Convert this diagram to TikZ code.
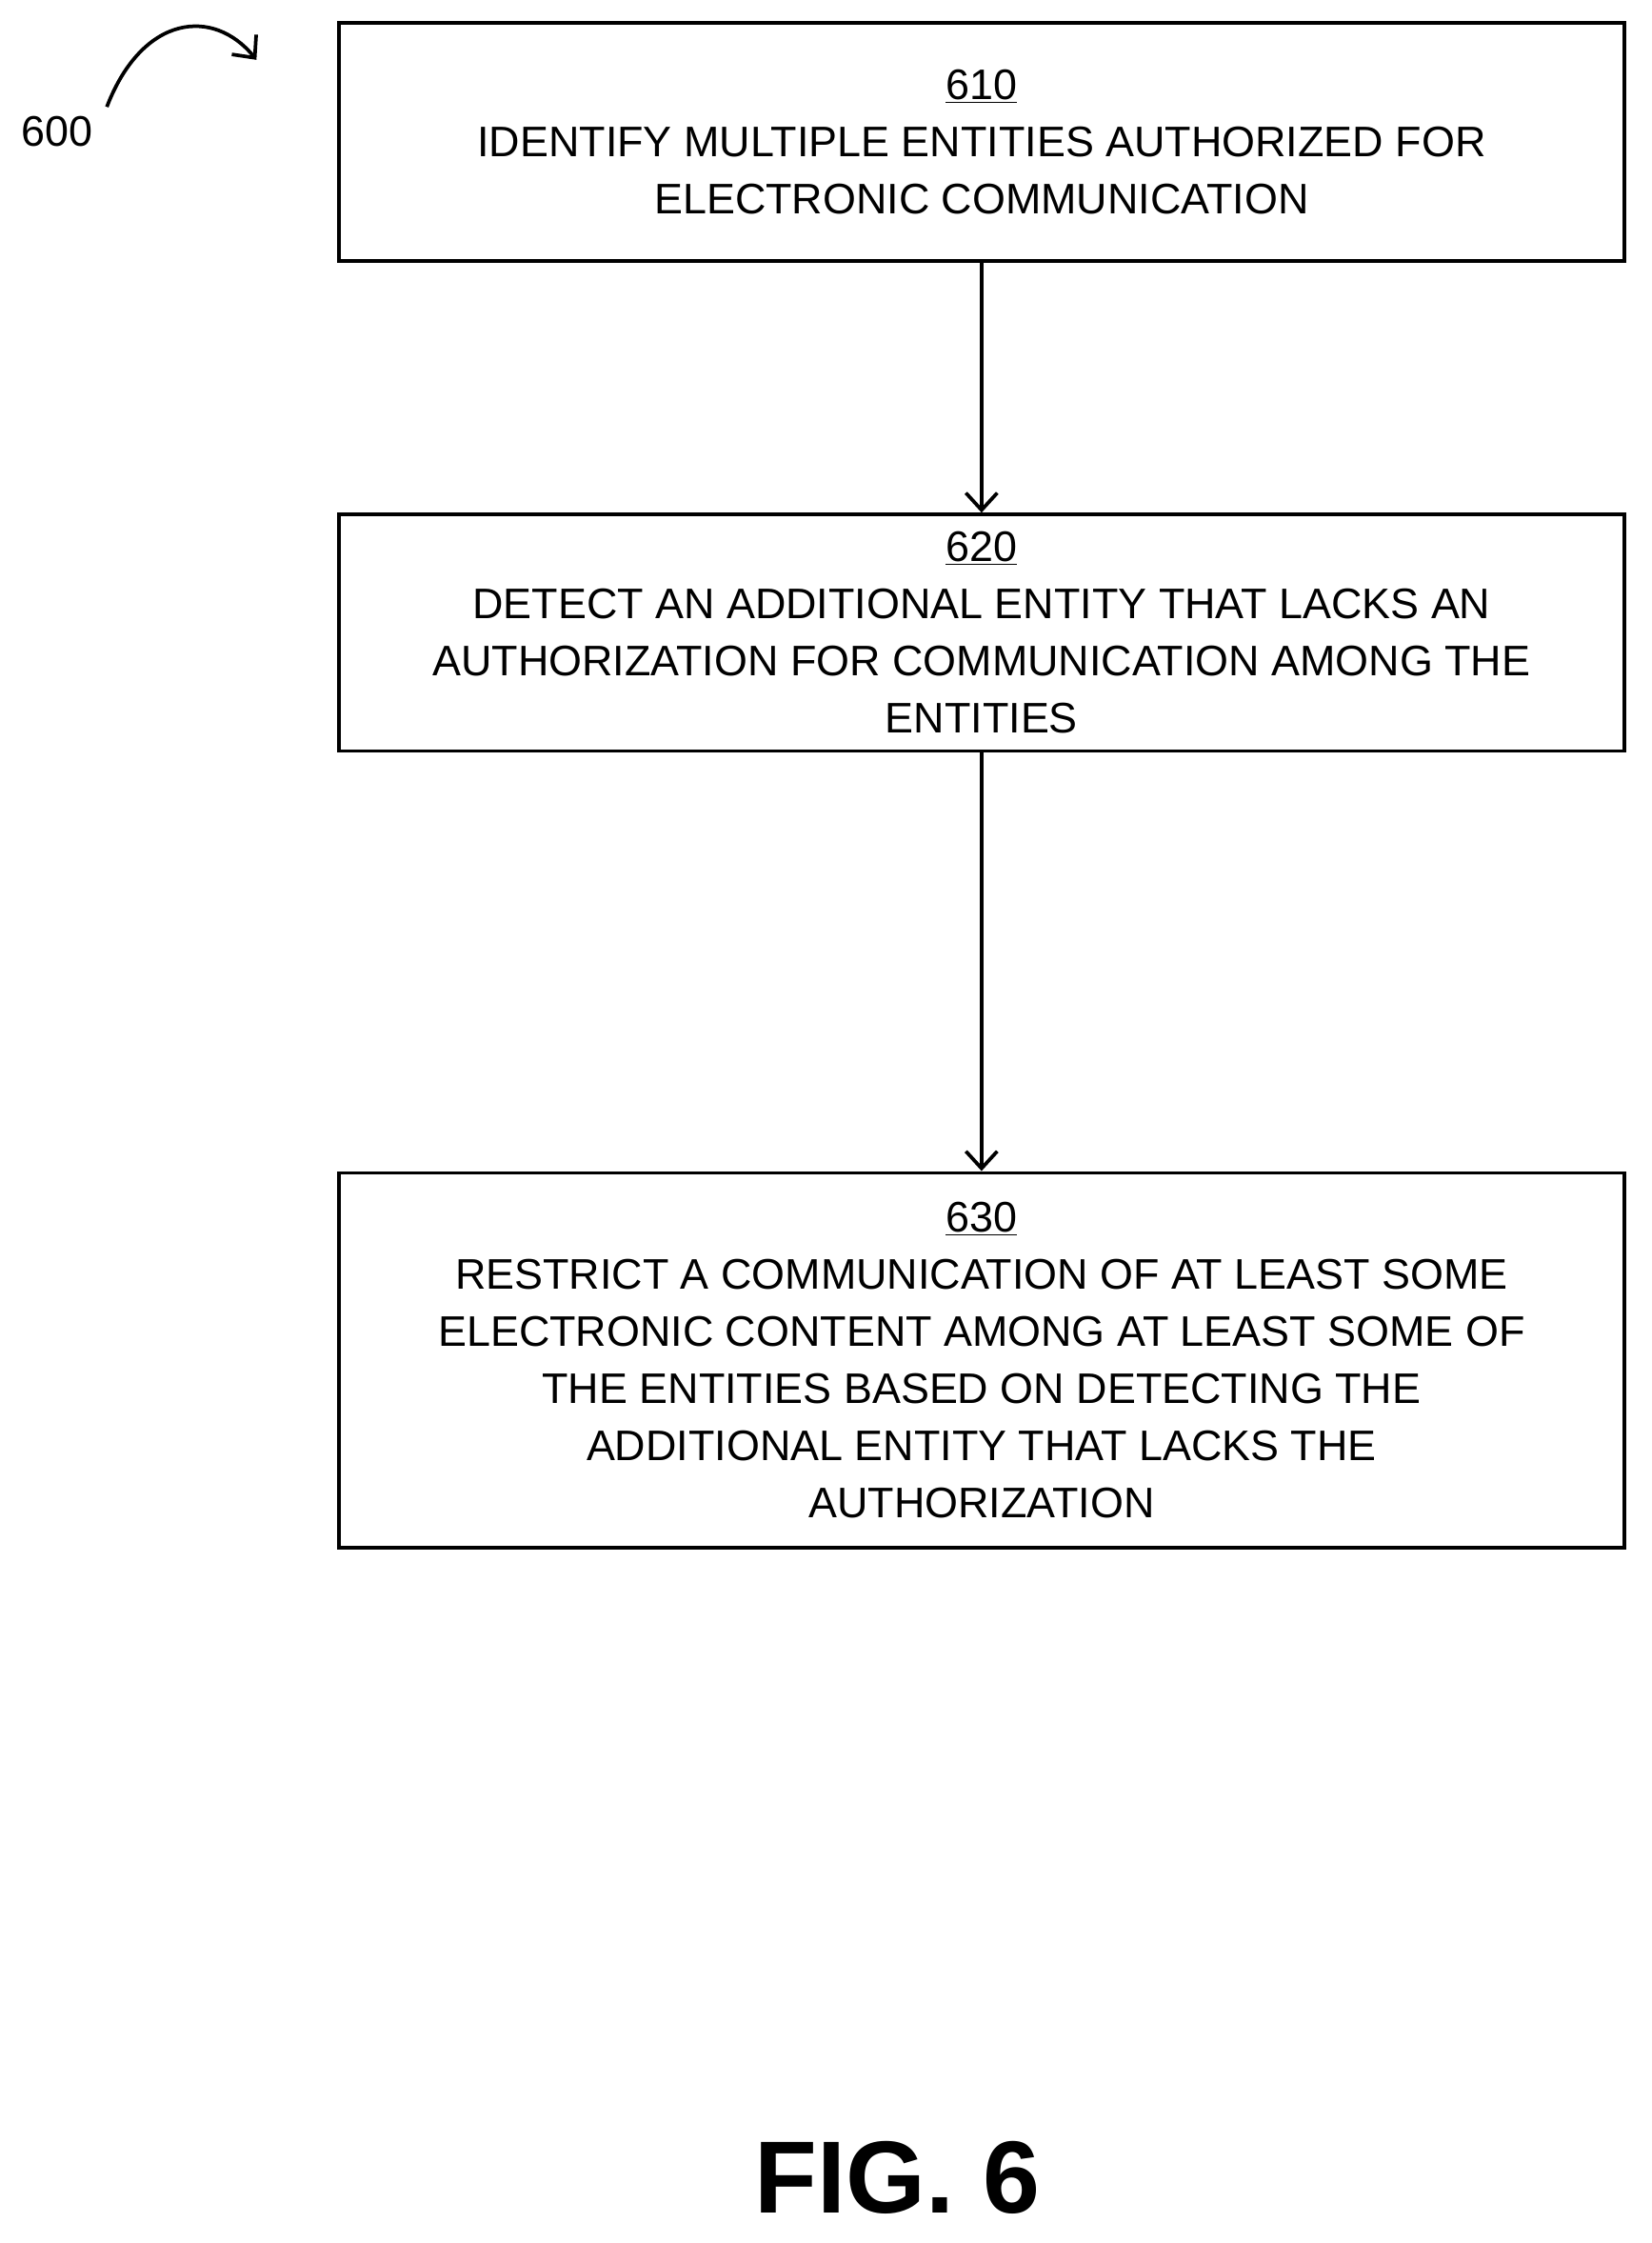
\documentclass[tikz,border=0pt]{standalone}
\usepackage{fontspec}
\setmainfont{Liberation Sans}
\usetikzlibrary{arrows.meta}
\begin{document}
\begin{tikzpicture}[x=1pt,y=-1pt,
 box/.style={draw,line width=2.5pt,minimum width=902pt,align=center,inner sep=0pt,font=\fontsize{30}{40}\selectfont},
 arr/.style={line width=2.5pt,-{Straight Barb[length=12pt,width=22pt,line width=2.5pt]}}]
\useasboundingbox (0,0) rectangle (1159,1574);
\node[box,minimum height=167pt] (b1) at (689,99.5) {\underline{610}\\IDENTIFY MULTIPLE ENTITIES AUTHORIZED FOR\\ELECTRONIC COMMUNICATION};
\node[box,minimum height=166pt] (b2) at (689,444) {\underline{620}\\DETECT AN ADDITIONAL ENTITY THAT LACKS AN\\AUTHORIZATION FOR COMMUNICATION AMONG THE\\ENTITIES};
\node[box,minimum height=263pt] (b3) at (689,954.5) {\underline{630}\\RESTRICT A COMMUNICATION OF AT LEAST SOME\\ELECTRONIC CONTENT AMONG AT LEAST SOME OF\\THE ENTITIES BASED ON DETECTING THE\\ADDITIONAL ENTITY THAT LACKS THE\\AUTHORIZATION};
\draw[arr] (b1) -- (b2);
\draw[arr] (b2) -- (b3);
\node[font=\fontsize{30}{36}\selectfont] (n600) at (40,92) {600};
\coordinate (c1) at (75,75);
\coordinate (c2) at (180,42);
\draw[arr] (c1) .. controls (100,10) and (150,5) .. (c2);
\node[font=\fontsize{72}{80}\selectfont\bfseries] (fig) at (630,1528) {FIG. 6};
\end{tikzpicture}
\end{document}
